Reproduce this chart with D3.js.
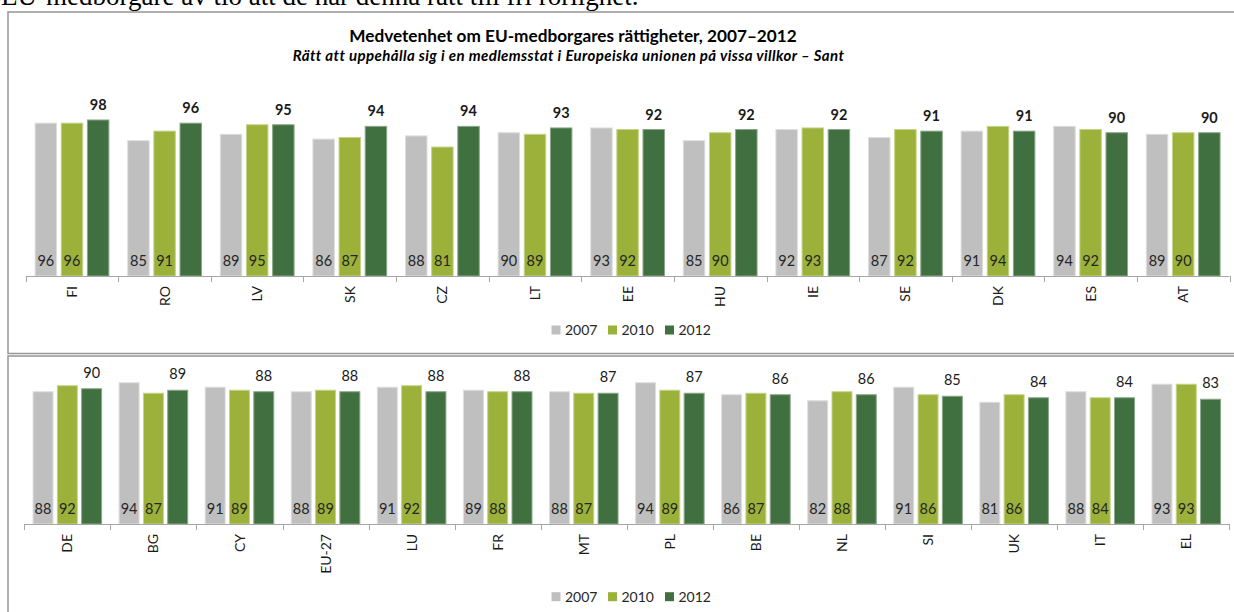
<!DOCTYPE html>
<html>
<head>
<meta charset="utf-8">
<script src="https://cdn.jsdelivr.net/npm/d3@7"></script>
<style>
  html, body { margin: 0; padding: 0; background: #fff; }
  svg { display: block; }
</style>
</head>
<body>
<svg id="chart" width="1234" height="612"></svg>
<script>
// Awareness of the right of residence, by country and survey year
const years = ["2007", "2010", "2012"];

const countriesA = ["FI", "RO", "LV", "SK", "CZ", "LT", "EE", "HU", "IE", "SE", "DK", "ES", "AT"];
const a2007 = [96, 85, 89, 86, 88, 90, 93, 85, 92, 87, 91, 94, 89];
const a2010 = [96, 91, 95, 87, 81, 89, 92, 90, 93, 92, 94, 92, 90];
const a2012 = [98, 96, 95, 94, 94, 93, 92, 92, 92, 91, 91, 90, 90];

const countriesB = ["DE", "BG", "CY", "EU-27", "LU", "FR", "MT", "PL", "BE", "NL", "SI", "UK", "IT", "EL"];
const b2007 = [88, 94, 91, 88, 91, 89, 88, 94, 86, 82, 91, 81, 88, 93];
const b2010 = [92, 87, 89, 89, 92, 88, 87, 89, 87, 88, 86, 86, 84, 93];
const b2012 = [90, 89, 88, 88, 88, 88, 87, 87, 86, 86, 85, 84, 84, 83];

const titleText = "Medvetenhet om EU-medborgares rättigheter, 2007–2012";
const subtitleText = "Rätt att uppehålla sig i en medlemsstat i Europeiska unionen på vissa villkor – Sant";
const leadText = "EU-medborgare av tio att de har denna rätt till fri rörlighet.";

const colors = { "2007": "#bfbfbf", "2010": "#9bb13a", "2012": "#40703f" };
const edge = { "2007": "#dedede", "2010": "#c4d48a", "2012": "#8aa889" };
const FONT = "Lato, 'Open Sans', sans-serif";

const svg = d3.select("#chart");

// Body text line that runs above the figure
svg.append("text")
  .attr("x", 1).attr("y", 4.5)
  .attr("font-family", "'Liberation Serif', 'Times New Roman', serif")
  .attr("font-size", 27)
  .attr("fill", "#000")
  .text(leadText);

// Frames of the two chart panels
svg.append("rect")
  .attr("x", 8).attr("y", 12).attr("width", 1240).attr("height", 341.5)
  .attr("fill", "none").attr("stroke", "#959595").attr("stroke-width", 1.5);
svg.append("rect")
  .attr("x", 8).attr("y", 356).attr("width", 1240).attr("height", 280)
  .attr("fill", "none").attr("stroke", "#959595").attr("stroke-width", 1.5);

// Titles
svg.append("text")
  .attr("x", 573).attr("y", 41.5)
  .attr("text-anchor", "middle")
  .attr("font-family", FONT).attr("font-weight", "bold").attr("font-size", 17.2)
  .attr("fill", "#000")
  .text(titleText);
svg.append("text")
  .attr("x", 568.5).attr("y", 61)
  .attr("text-anchor", "middle")
  .attr("font-family", FONT).attr("font-weight", "bold").attr("font-style", "italic").attr("font-size", 15)
  .attr("letter-spacing", 0.4)
  .attr("fill", "#000")
  .text(subtitleText);

function panel(opts) {
  const { cats, series, x0, x1, base, unit, boldTop, topGap } = opts;
  const g = svg.append("g");

  const x = d3.scaleBand().domain(cats).range([x0, x1]).paddingInner(0).paddingOuter(0);
  const xs = d3.scaleBand().domain(years).range([0, x.bandwidth()]).paddingInner(0.178).paddingOuter(0.36);
  const y = d3.scaleLinear().domain([0, 100]).range([base, base - unit * 100]);

  const rows = cats.map((c, i) => ({ cat: c, vals: years.map((yr, k) => ({ year: yr, value: series[k][i] })) }));

  const groups = g.selectAll("g.cat").data(rows).join("g")
    .attr("class", "cat")
    .attr("transform", d => `translate(${x(d.cat)},0)`);

  groups.selectAll("rect").data(d => d.vals).join("rect")
    .attr("x", d => xs(d.year))
    .attr("y", d => y(d.value))
    .attr("width", xs.bandwidth())
    .attr("height", d => base - y(d.value))
    .attr("fill", d => colors[d.year])
    .attr("stroke", d => edge[d.year])
    .attr("stroke-width", 1);

  // values of the two earlier years, written at the foot of the bar
  groups.selectAll("text.inner").data(d => d.vals.filter(v => v.year !== "2012")).join("text")
    .attr("class", "inner")
    .attr("x", d => xs(d.year) + xs.bandwidth() / 2)
    .attr("y", base - 10)
    .attr("text-anchor", "middle")
    .attr("font-family", FONT).attr("font-size", 14.5)
    .attr("fill", "#262626")
    .text(d => d.value);

  // latest value above the bar
  groups.selectAll("text.top").data(d => d.vals.filter(v => v.year === "2012")).join("text")
    .attr("class", "top")
    .attr("x", d => xs(d.year) + xs.bandwidth() / 2)
    .attr("y", d => y(d.value) - topGap)
    .attr("text-anchor", "middle")
    .attr("font-family", FONT).attr("font-size", 14.5)
    .attr("font-weight", boldTop ? "bold" : "normal")
    .attr("fill", "#1a1a1a")
    .text(d => d.value);

  // category axis with ticks on the band boundaries
  const tickPos = cats.map(c => x(c)).concat([x.range()[1]]);
  g.append("line")
    .attr("x1", x0).attr("x2", x1).attr("y1", base + 0.5).attr("y2", base + 0.5)
    .attr("stroke", "#a6a6a6").attr("stroke-width", 1);
  g.selectAll("line.tick").data(tickPos).join("line")
    .attr("class", "tick")
    .attr("x1", d => Math.round(d) + 0.5).attr("x2", d => Math.round(d) + 0.5)
    .attr("y1", base).attr("y2", base + 6)
    .attr("stroke", "#a6a6a6").attr("stroke-width", 1);

  g.selectAll("text.cat").data(cats).join("text")
    .attr("class", "cat")
    .attr("transform", c => `translate(${x(c) + x.bandwidth() / 2},${base + 10}) rotate(-90)`)
    .attr("text-anchor", "end")
    .attr("dy", "0.36em")
    .attr("font-family", FONT).attr("font-size", 14)
    .attr("fill", "#1a1a1a")
    .text(c => c);

  // legend
  const legX = [551.5, 608, 665];
  const leg = g.selectAll("g.leg").data(years).join("g")
    .attr("class", "leg")
    .attr("transform", (d, i) => `translate(${legX[i]},${opts.legendY})`);
  leg.append("rect")
    .attr("x", 0).attr("y", -4.5).attr("width", 9).attr("height", 9)
    .attr("fill", d => colors[d]);
  leg.append("text")
    .attr("x", 13.5).attr("y", 0).attr("dy", "0.36em")
    .attr("font-family", FONT).attr("font-size", 14)
    .attr("fill", "#262626")
    .text(d => d);
}

panel({
  cats: countriesA, series: [a2007, a2010, a2012],
  x0: 25.7, x1: 1229.5, base: 276, unit: 1.592,
  boldTop: true, topGap: 10, legendY: 330
});

panel({
  cats: countriesB, series: [b2007, b2010, b2012],
  x0: 24.3, x1: 1229.3, base: 524, unit: 1.503,
  boldTop: false, topGap: 11, legendY: 596.7
});
</script>
</body>
</html>
